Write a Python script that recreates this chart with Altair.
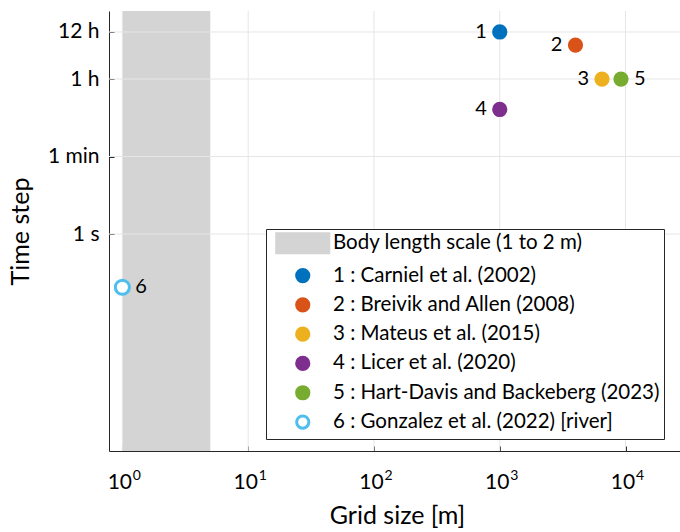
import altair as alt
import pandas as pd

# Studies: grid size (m) against model time step (s)
study_ids = ["1", "2", "3", "4", "5", "6"]
study_names = [
    "Carniel et al. (2002)",
    "Breivik and Allen (2008)",
    "Mateus et al. (2015)",
    "Licer et al. (2020)",
    "Hart-Davis and Backeberg (2023)",
    "Gonzalez et al. (2022) [river]",
]
grid_size_m = [1000, 4000, 6500, 1000, 9200, 1]
time_step_s = [43200, 21600, 3600, 720, 3600, 0.06]
label_side = ["left", "left", "left", "left", "right", "right"]
point_colors = ["#0072BD", "#D95319", "#EDB120", "#7E2F8E", "#77AC30", "#4DBEEE"]

# Body length band
band_label = "Body length scale (1 to 2 m)"
band_start_m = [1]
band_end_m = [5]

# Axis ticks (x labels are written as 10 with a raised exponent)
x_tick_values = [1, 10, 100, 1000, 10000]
x_tick_base = "10"
x_tick_exponents = ["0", "1", "2", "3", "4"]
y_tick_values = [1, 60, 3600, 43200]
y_tick_labels = ["1 s", "1 min", "1 h", "12 h"]

FONT = "Lato"
INK = "#262626"
GRID = "#e6e6e6"
BAND = "#d4d4d4"
W, H = 571, 440

entries = [band_label] + [f"{i} : {n}" for i, n in zip(study_ids, study_names)]
fill_range = [BAND] + point_colors[:5] + ["white"]
stroke_range = [BAND] + point_colors
rect_path = "M-4.25,-1.55L4.25,-1.55L4.25,1.55L-4.25,1.55Z"
shape_range = [rect_path] + ["circle"] * 6

points = pd.DataFrame({
    "id": study_ids,
    "entry": entries[1:],
    "grid": grid_size_m,
    "dt": time_step_s,
    "side": label_side,
})
band = pd.DataFrame({"x0": band_start_m, "x1": band_end_m})
xticks = pd.DataFrame({"v": x_tick_values})
yticks = pd.DataFrame({"v": y_tick_values})


def label_expr(values, labels):
    parts = [f"datum.value == {v} ? '{l}'" for v, l in zip(values, labels)]
    return " : ".join(parts) + " : ''"


xscale = alt.Scale(type="log", domain=[0.783, 27100], nice=False)
yscale = alt.Scale(type="log", domain=[1.05e-5, 1.31e5], nice=False)

band_layer = alt.Chart(band).mark_rect(color=BAND).encode(
    x=alt.X("x0:Q", scale=xscale, axis=None),
    x2="x1:Q",
)

# vertical grid lines; its axis gives the inward ticks at the bottom edge
# and the raised exponents of the decade labels
grid_x = alt.Chart(xticks).mark_rule(color=GRID, strokeWidth=1).encode(
    x=alt.X("v:Q", scale=xscale, axis=alt.Axis(
        orient="top", offset=-H, values=x_tick_values, domain=False,
        grid=False, ticks=True, tickSize=5, tickColor=INK, tickWidth=1,
        labels=True, labelExpr=label_expr(x_tick_values, x_tick_exponents),
        labelFont=FONT, labelFontSize=14, labelColor="black",
        labelAlign="left", labelBaseline="alphabetic", labelPadding=-33,
        labelOffset=10, labelOverlap=False, labelFlush=False,
        title=None)),
)

# horizontal grid lines; its axis gives the inward ticks at the left edge
grid_y = alt.Chart(yticks).mark_rule(color=GRID, strokeWidth=1).encode(
    y=alt.Y("v:Q", scale=yscale, axis=alt.Axis(
        orient="right", offset=-W, values=y_tick_values, domain=False,
        labels=False, grid=False, ticks=True, tickSize=5, tickColor=INK,
        tickWidth=1, title=None)),
)

legend = alt.Legend(
    title=None, orient="none", legendX=157, legendY=218,
    fillColor="white", strokeColor=INK, padding=4,
    labelFont=FONT, labelFontSize=20.5, labelColor="black", labelLimit=0,
    symbolSize=150, symbolStrokeWidth=3, symbolOpacity=1,
    symbolOffset=22.5, labelOffset=20, rowPadding=4.3,
)

point_layer = alt.Chart(points).mark_point(filled=True, opacity=1, strokeWidth=3).encode(
    x=alt.X("grid:Q", scale=xscale, axis=alt.Axis(
        values=x_tick_values, labelExpr=f"'{x_tick_base}'",
        grid=False, ticks=False, domainColor=INK, domainWidth=1,
        labelFont=FONT, labelFontSize=21, labelColor="black", labelPadding=20,
        labelOffset=-3, labelOverlap=False, labelFlush=False,
        title="Grid size [m]", titleFont=FONT, titleFontSize=25,
        titleFontWeight="normal", titleColor="black",
        titleBaseline="alphabetic", titleX=288, titleY=72)),
    y=alt.Y("dt:Q", scale=yscale, axis=alt.Axis(
        values=y_tick_values, labelExpr=label_expr(y_tick_values, y_tick_labels),
        grid=False, ticks=False, domainColor=INK, domainWidth=1,
        labelFont=FONT, labelFontSize=21, labelColor="black", labelPadding=10,
        labelOverlap=False,
        title="Time step", titleFont=FONT, titleFontSize=25,
        titleFontWeight="normal", titleColor="black",
        titleBaseline="alphabetic", titleX=-81, titleY=H / 2)),
    fill=alt.Fill("entry:N", scale=alt.Scale(domain=entries, range=fill_range), legend=legend),
    stroke=alt.Stroke("entry:N", scale=alt.Scale(domain=entries, range=stroke_range), legend=legend),
    shape=alt.Shape("entry:N", scale=alt.Scale(domain=entries, range=shape_range), legend=legend),
    size=alt.condition("datum.id == '6'", alt.value(200), alt.value(150)),
)

text_left = alt.Chart(points).transform_filter("datum.side == 'left'").mark_text(
    align="right", baseline="middle", dx=-13, font=FONT, fontSize=20, color="black"
).encode(
    x=alt.X("grid:Q", scale=xscale, axis=None),
    y=alt.Y("dt:Q", scale=yscale, axis=None),
    text="id:N",
)

text_right = alt.Chart(points).transform_filter("datum.side == 'right'").mark_text(
    align="left", baseline="middle", dx=13, font=FONT, fontSize=20, color="black"
).encode(
    x=alt.X("grid:Q", scale=xscale, axis=None),
    y=alt.Y("dt:Q", scale=yscale, axis=None),
    text="id:N",
)

chart = alt.layer(
    band_layer, grid_x, grid_y, point_layer, text_left, text_right
).resolve_axis(
    x="independent", y="independent"
).properties(
    width=W, height=H,
    autosize=alt.AutoSizeParams(type="none"),
    padding={"left": 109, "top": 11, "right": 0, "bottom": 81},
    background="white",
).configure_view(stroke=None)

chart.save("out.html", embed_options={"renderer": "svg", "actions": False})
